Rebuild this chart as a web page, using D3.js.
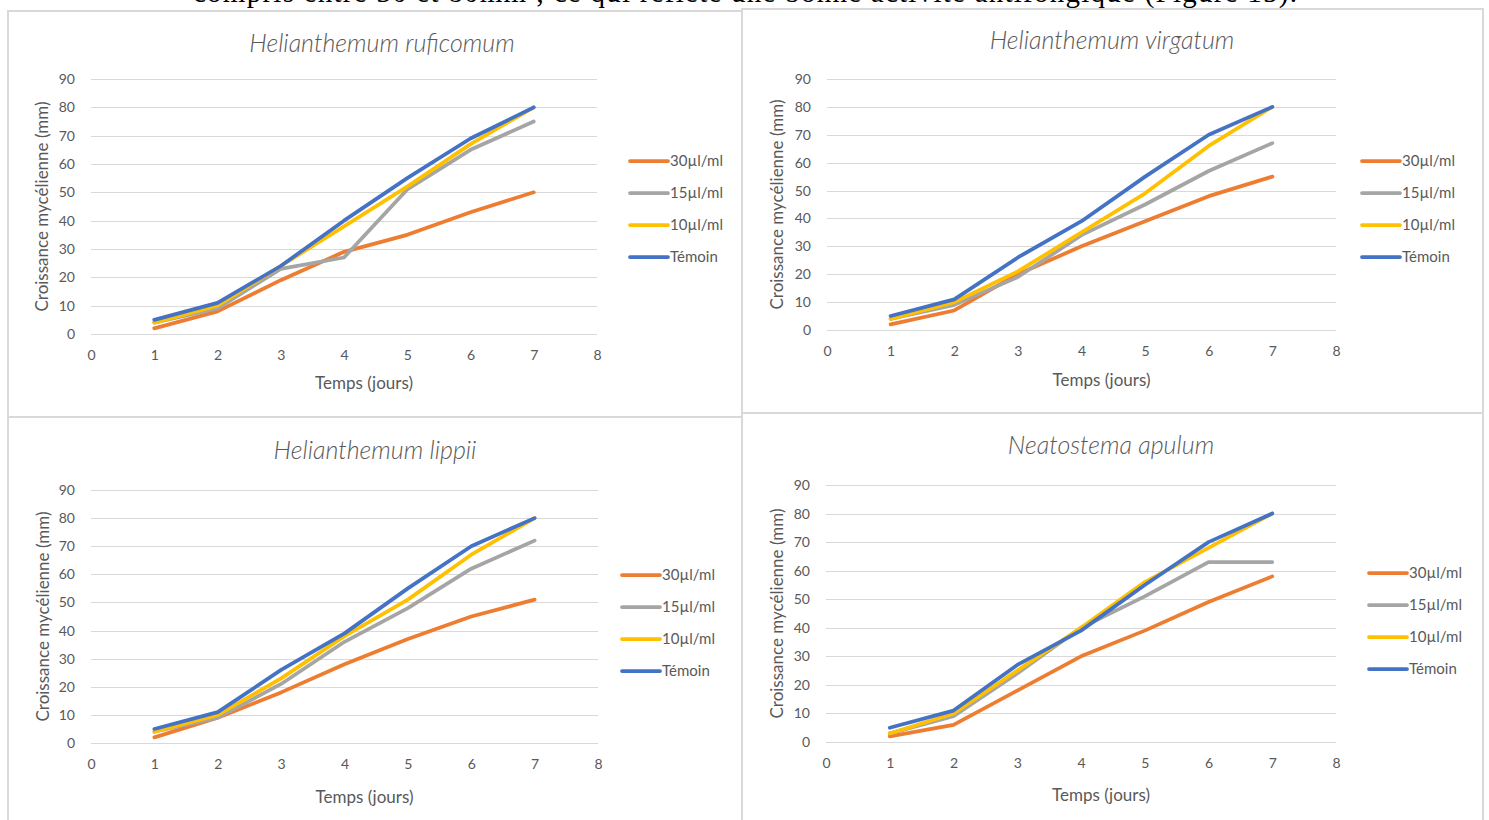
<!DOCTYPE html>
<html>
<head>
<meta charset="utf-8">
<script src="https://cdn.jsdelivr.net/npm/d3@7"></script>
<style>
  body { margin: 0; background: #fff; }
  svg { display: block; }
</style>
</head>
<body>
<script>
// jours d'observation
var days = [1, 2, 3, 4, 5, 6, 7];
var xTicks = [0, 1, 2, 3, 4, 5, 6, 7, 8];
var yTicks = [0, 10, 20, 30, 40, 50, 60, 70, 80, 90];
var seriesNames = ["30µl/ml", "15µl/ml", "10µl/ml", "Témoin"];
var seriesColors = ["#ED7D31", "#A5A5A5", "#FFC000", "#4472C4"];

// Helianthemum ruficomum
var ruficomum30 = [2, 8, 19, 29, 35, 43, 50];
var ruficomum15 = [4, 9, 23, 27, 51, 65, 75];
var ruficomum10 = [4, 10, 24, 38, 52, 67, 80];
var ruficomumTemoin = [5, 11, 24, 40, 55, 69, 80];

// Helianthemum virgatum
var virgatum30 = [2, 7, 20, 30, 39, 48, 55];
var virgatum15 = [4, 9, 19, 34, 45, 57, 67];
var virgatum10 = [4, 10, 21, 35, 49, 66, 80];
var virgatumTemoin = [5, 11, 26, 39, 55, 70, 80];

// Helianthemum lippii
var lippii30 = [2, 9, 18, 28, 37, 45, 51];
var lippii15 = [4, 9, 21, 36, 48, 62, 72];
var lippii10 = [4, 10, 23, 38, 51, 67, 80];
var lippiiTemoin = [5, 11, 26, 39, 55, 70, 80];

// Neatostema apulum
var apulum30 = [2, 6, 18, 30, 39, 49, 58];
var apulum15 = [3, 9, 24, 40, 51, 63, 63];
var apulum10 = [3, 10, 25, 40, 56, 68, 80];
var apulumTemoin = [5, 11, 27, 39, 55, 70, 80];

var W = 1489, H = 820;
var font = "Lato, 'Open Sans', sans-serif";
var textColor = "#595959";

var svg = d3.select("body").append("svg")
    .attr("width", W)
    .attr("height", H);

// phrase du document, coupée en haut comme sur la capture
svg.append("text")
    .attr("x", 193)
    .attr("y", 2)
    .attr("textLength", 1104)
    .attr("lengthAdjust", "spacing")
    .style("font-family", "'Liberation Serif', 'Times New Roman', serif")
    .style("font-size", "29px")
    .attr("fill", "#000")
    .text("compris entre 30 et 80mm ; ce qui reflète une bonne activité antifongique (Figure 15).");

var panels = [
  { title: "Helianthemum ruficomum", series: [ruficomum30, ruficomum15, ruficomum10, ruficomumTemoin],
    box: [8, 11, 742, 417], x0: 91, x1: 597, y0: 334, y1: 79,
    titleX: 382, titleY: 52, yTitleX: 48, xTitleY: 389, legendX: 630, legendY: 161 },
  { title: "Helianthemum virgatum", series: [virgatum30, virgatum15, virgatum10, virgatumTemoin],
    box: [742, 9, 1483, 413], x0: 827, x1: 1336, y0: 330, y1: 79,
    titleX: 1112, titleY: 49, yTitleX: 783, xTitleY: 386, legendX: 1362, legendY: 161 },
  { title: "Helianthemum lippii", series: [lippii30, lippii15, lippii10, lippiiTemoin],
    box: [8, 417, 742, 830], x0: 91, x1: 598, y0: 743, y1: 490,
    titleX: 375, titleY: 459, yTitleX: 49, xTitleY: 803, legendX: 622, legendY: 575 },
  { title: "Neatostema apulum", series: [apulum30, apulum15, apulum10, apulumTemoin],
    box: [742, 413, 1483, 830], x0: 826, x1: 1336, y0: 742, y1: 485,
    titleX: 1111, titleY: 454, yTitleX: 783, xTitleY: 801, legendX: 1369, legendY: 573 }
];

panels.forEach(function(p) {
  var g = svg.append("g");

  g.append("rect")
      .attr("x", p.box[0]).attr("y", p.box[1])
      .attr("width", p.box[2] - p.box[0]).attr("height", p.box[3] - p.box[1])
      .attr("fill", "none")
      .attr("stroke", "#d9d9d9")
      .attr("stroke-width", 2);

  var x = d3.scaleLinear().domain([0, 8]).range([p.x0, p.x1]);
  var y = d3.scaleLinear().domain([0, 90]).range([p.y0, p.y1]);

  // grille horizontale
  g.selectAll(".grid").data(yTicks).enter().append("line")
      .attr("x1", p.x0).attr("x2", p.x1)
      .attr("y1", function(d) { return Math.round(y(d)) + 0.5; })
      .attr("y2", function(d) { return Math.round(y(d)) + 0.5; })
      .attr("stroke", "#d9d9d9")
      .attr("stroke-width", 1);

  var yAxis = d3.axisLeft(y).tickValues(yTicks).tickSize(0).tickPadding(16);
  var ya = g.append("g").attr("transform", "translate(" + p.x0 + ",0)").call(yAxis);
  ya.select(".domain").remove();
  ya.selectAll("text").style("font-family", font).style("font-size", "14px").attr("fill", textColor);

  var xAxis = d3.axisBottom(x).tickValues(xTicks).tickSize(0).tickPadding(16);
  var xa = g.append("g").attr("transform", "translate(0," + p.y0 + ")").call(xAxis);
  xa.select(".domain").remove();
  xa.selectAll("text").style("font-family", font).style("font-size", "14px").attr("fill", textColor);

  g.append("text")
      .attr("x", p.titleX)
      .attr("y", p.titleY)
      .attr("text-anchor", "middle")
      .style("font-family", font)
      .style("font-style", "italic")
      .style("font-weight", 300)
      .style("font-size", "25px")
      .attr("fill", textColor)
      .text(p.title);

  g.append("text")
      .attr("transform", "translate(" + p.yTitleX + "," + (p.y0 + p.y1) / 2 + ") rotate(-90)")
      .attr("text-anchor", "middle")
      .style("font-family", font)
      .style("font-size", "17px")
      .attr("fill", textColor)
      .text("Croissance mycélienne (mm)");

  g.append("text")
      .attr("x", (p.x0 + p.x1) / 2 + 20)
      .attr("y", p.xTitleY)
      .attr("text-anchor", "middle")
      .style("font-family", font)
      .style("font-size", "17px")
      .attr("fill", textColor)
      .text("Temps (jours)");

  var line = d3.line()
      .x(function(d, i) { return x(days[i]); })
      .y(function(d) { return y(d); });

  g.selectAll(".serie").data(p.series).enter().append("path")
      .attr("d", line)
      .attr("fill", "none")
      .attr("stroke", function(d, i) { return seriesColors[i]; })
      .attr("stroke-width", 3.75)
      .attr("stroke-linejoin", "round")
      .attr("stroke-linecap", "round");

  var leg = g.selectAll(".leg").data(seriesNames).enter().append("g")
      .attr("transform", function(d, i) { return "translate(" + p.legendX + "," + (p.legendY + i * 32) + ")"; });
  leg.append("line")
      .attr("x1", 0).attr("x2", 38)
      .attr("stroke", function(d, i) { return seriesColors[i]; })
      .attr("stroke-width", 3.75)
      .attr("stroke-linecap", "round");
  leg.append("text")
      .attr("x", 40).attr("y", 5)
      .style("font-family", font)
      .style("font-size", "15px")
      .attr("fill", textColor)
      .text(function(d) { return d; });
});
</script>
</body>
</html>
